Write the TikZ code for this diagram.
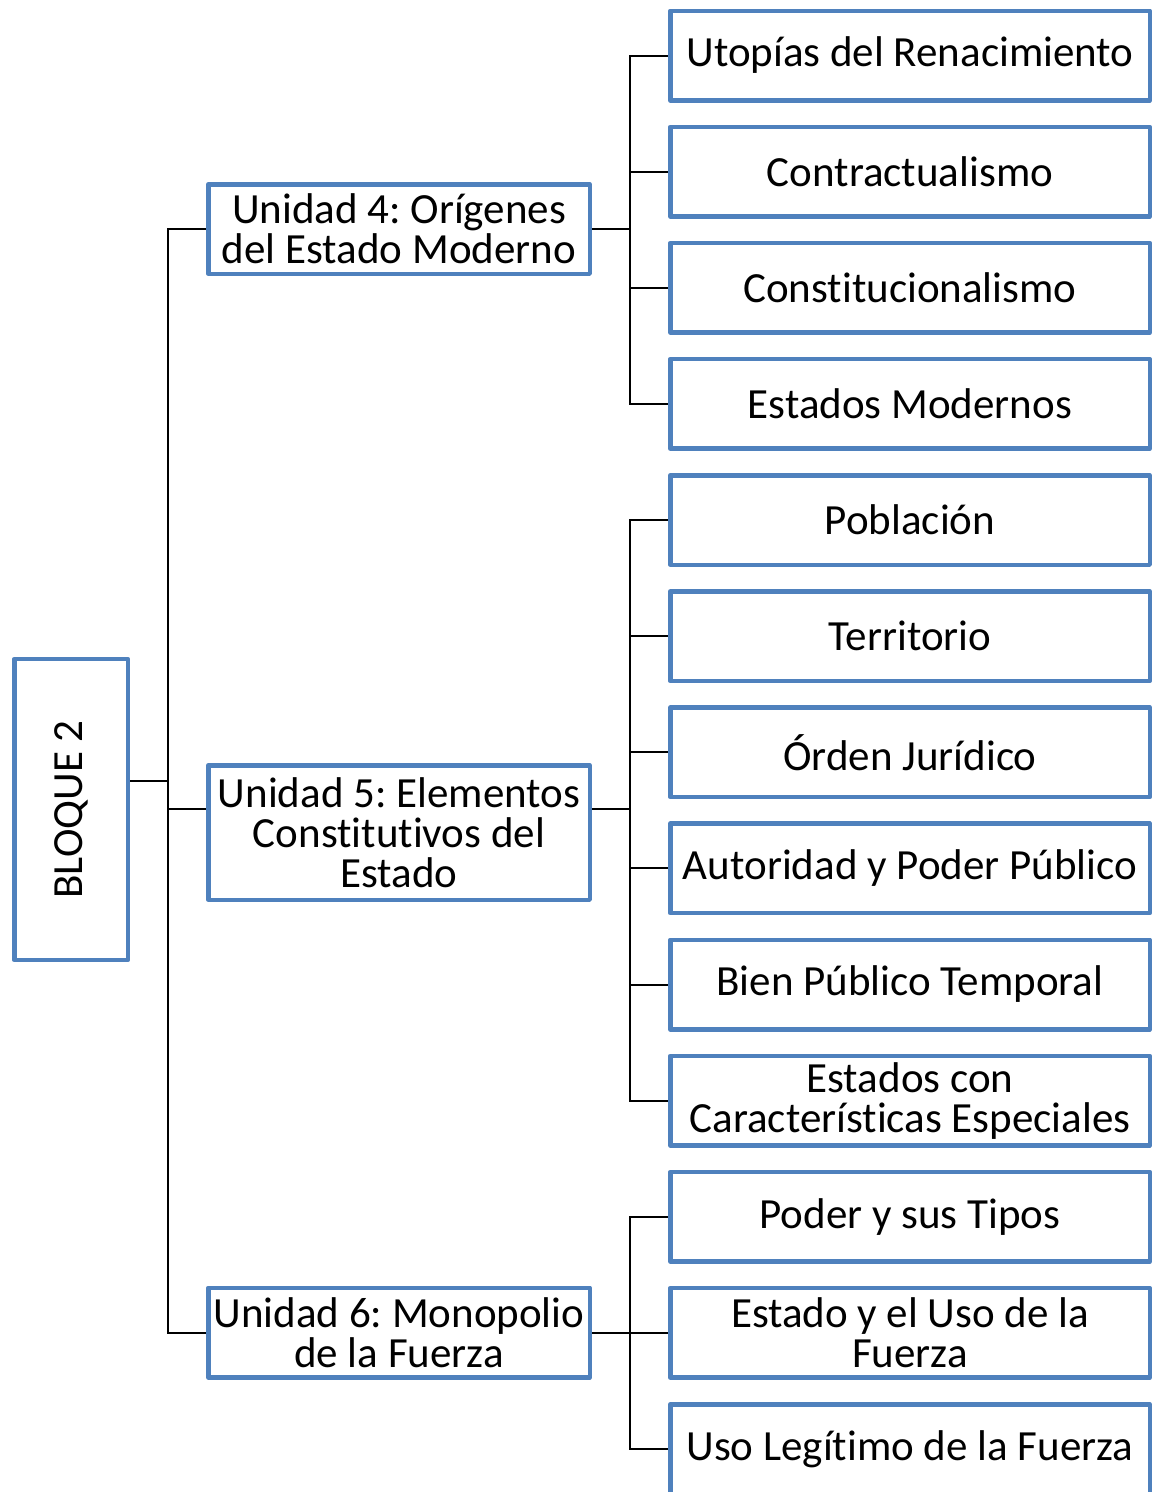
\documentclass[tikz,border=0pt]{standalone}
\usepackage{fontspec}
\setmainfont{Carlito}[Ligatures=NoCommon]
\usepackage{xcolor}
\usepackage{tikz}
\usetikzlibrary{positioning}
\usetikzlibrary{backgrounds}

\definecolor{boxblue}{HTML}{4F81BD}
\frenchspacing

\begin{document}
\begin{tikzpicture}[x=1pt, y=-1pt, on grid, node distance=116.125pt,
    box/.style={draw=boxblue, line width=4.5pt, line join=round, fill=white, inner sep=0pt,
      align=center, font=\fontsize{43}{40}\selectfont},
    leaf/.style={box, minimum width=479.5pt, minimum height=89.5pt},
    unit/.style={box, minimum width=381.5pt, minimum height=89.5pt},
    link/.style={line width=2pt, black}]
      \useasboundingbox (0,0) rectangle (1161,1492);

      % bloque y unidades
      \node[box, minimum width=113.5pt, minimum height=301pt] (bloque) at (71,809.5) {\rotatebox{90}{BLOQUE 2}};
      \node[unit]                        (u_4) at (399,229)    {Unidad 4: Orígenes\\del Estado Moderno};
      \node[unit, minimum height=134.5pt] (u_5) at (399,832.5)  {Unidad 5: Elementos\\Constitutivos del\\Estado};
      \node[unit]                        (u_6) at (399,1332.5) {Unidad 6: Monopolio\\de la Fuerza};

      % temas
      \node[leaf] (utopias)      at (910,55.5)        {Utopías del Renacimiento};
      \node[leaf] (contrato)     [below=of utopias]   {Contractualismo};
      \node[leaf] (constitucion) [below=of contrato]  {Constitucionalismo};
      \node[leaf] (modernos)     [below=of constitucion] {Estados Modernos};
      \node[leaf] (poblacion)    [below=of modernos]  {Población};
      \node[leaf] (territorio)   [below=of poblacion] {Territorio};
      \node[leaf] (orden)        [below=of territorio] {Órden Jurídico};
      \node[leaf] (autoridad)    [below=of orden]     {Autoridad y Poder Público};
      \node[leaf] (bien)         [below=of autoridad] {Bien Público Temporal};
      \node[leaf] (especiales)   [below=of bien]      {Estados con\\Características Especiales};
      \node[leaf] (poder)        [below=of especiales] {Poder y sus Tipos};
      \node[leaf] (fuerza)       [below=of poder]     {Estado y el Uso de la\\Fuerza};
      \node[leaf] (legitimo)     [below=of fuerza]    {Uso Legítimo de la Fuerza};

      \coordinate (spine) at (168,0);
      \coordinate (fork)  at (630,0);
      \coordinate (b_out) at ([yshift=28.5pt]bloque.east);
      \coordinate (u_5in) at ([yshift=23.5pt]u_5.west);
      \coordinate (u_5out) at ([yshift=23.5pt]u_5.east);

      \begin{scope}[on background layer]
        % tronco
        \draw[link] (u_4.west) -| (spine |- u_6.west) -- (u_6.west);
        \draw[link] (b_out) -- (spine |- b_out);
        \draw[link] (spine |- u_5in) -- (u_5in);
        % unidad 4
        \draw[link] (utopias.west) -| (fork |- modernos.west) -- (modernos.west);
        \foreach \t in {contrato, constitucion}
          \draw[link] (\t.west) -- (fork |- \t.west);
        \draw[link] (u_4.east) -- (fork |- u_4.east);
        % unidad 5
        \draw[link] (poblacion.west) -| (fork |- especiales.west) -- (especiales.west);
        \foreach \t in {territorio, orden, autoridad, bien}
          \draw[link] (\t.west) -- (fork |- \t.west);
        \draw[link] (u_5out) -- (fork |- u_5out);
        % unidad 6
        \draw[link] (poder.west) -| (fork |- legitimo.west) -- (legitimo.west);
        \draw[link] (u_6.east) -- (u_6.east -| fuerza.west);
      \end{scope}
    \end{tikzpicture}
\end{document}
